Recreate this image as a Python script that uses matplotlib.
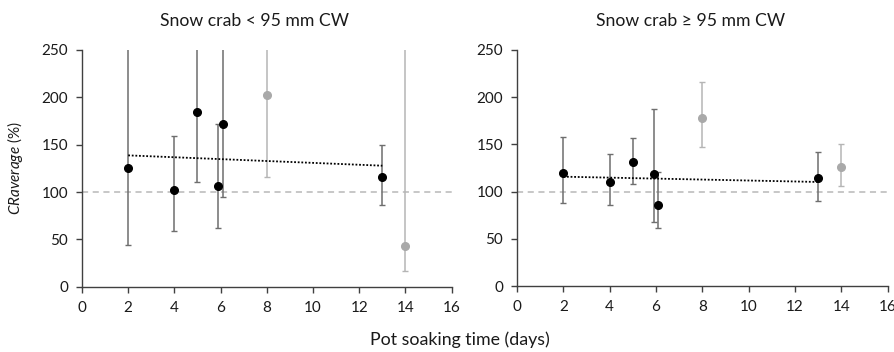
import matplotlib
matplotlib.use("Agg")
import matplotlib.pyplot as plt
import numpy as np

plt.rcParams['font.family'] = ['Lato', 'DejaVu Sans']
plt.rcParams['mathtext.fontset'] = 'custom'
plt.rcParams['mathtext.it'] = 'Lato:italic'
plt.rcParams['mathtext.rm'] = 'Lato'

titles = ["Snow crab < 95 mm CW", "Snow crab \u2265 95 mm CW"]

# black points (used in trend)
x_main = [2, 4, 5, 5.9, 6.1, 13]
small_y = [125.7, 102.5, 184.5, 106.7, 172.2, 115.8]
small_lo = [43.7, 58.8, 111, 62, 95, 86.3]
small_hi = [400, 159.5, 400, 171.8, 400, 149.3]
large_y = [119.4, 110.2, 131.4, 119, 86.2, 114.4]
large_lo = [87.9, 85.5, 108.4, 67.4, 61.1, 90]
large_hi = [157.5, 139.5, 157.1, 187.5, 120.4, 142]

# gray points (excluded)
x_excl = [8, 14]
small_ex_y = [202.8, 43]
small_ex_lo = [116, 16.2]
small_ex_hi = [400, 400]
large_ex_y = [178, 125.7]
large_ex_lo = [147.6, 105.6]
large_ex_hi = [216, 150.8]

# trend line endpoints
trend_x = [2, 13]
small_trend = [138.7, 127.8]
large_trend = [115.8, 110.2]

fig = plt.figure(figsize=(8.95, 3.52), dpi=100)
axes = [fig.add_axes([0.0916, 0.1855, 0.413, 0.6725]),
        fig.add_axes([0.5777, 0.1875, 0.4141, 0.6705])]

datasets = [
    (small_y, small_lo, small_hi, small_ex_y, small_ex_lo, small_ex_hi, small_trend),
    (large_y, large_lo, large_hi, large_ex_y, large_ex_lo, large_ex_hi, large_trend),
]

for ax, title, d in zip(axes, titles, datasets):
    y, lo, hi, ey, elo, ehi, tr = d
    y = np.array(y); lo = np.array(lo); hi = np.array(hi)
    ey = np.array(ey); elo = np.array(elo); ehi = np.array(ehi)
    ax.axhline(100, color='#b8b8b8', ls=(0, (4, 3)), lw=1.1, zorder=1)
    ax.errorbar(x_main, y, yerr=[y - lo, hi - y], fmt='none', ecolor='#6e6e6e',
                elinewidth=1.1, capsize=2.5, capthick=1.0, zorder=2)
    ax.errorbar(x_excl, ey, yerr=[ey - elo, ehi - ey], fmt='none', ecolor='#b5b5b5',
                elinewidth=1.1, capsize=2.5, capthick=1.0, zorder=2)
    ax.plot(x_main, y, 'o', color='black', ms=5.5, zorder=4)
    ax.plot(x_excl, ey, 'o', color='#a9a9a9', ms=5.5, zorder=4)
    ax.plot(trend_x, tr, color='black', ls=(0, (1, 1)), lw=1.3, zorder=3)
    ax.set_xlim(0, 16)
    ax.set_ylim(0, 250)
    ax.set_xticks(range(0, 17, 2))
    ax.set_yticks(range(0, 251, 50))
    for s in ['top', 'right']:
        ax.spines[s].set_visible(False)
    for s in ['left', 'bottom']:
        ax.spines[s].set_color('#404040')
        ax.spines[s].set_linewidth(1.0)
    ax.tick_params(axis='both', labelsize=11, color='#404040', length=4,
                   width=1.0, labelcolor='#1a1a1a', pad=6)
    ax.set_title(title, fontsize=12.7, color='#1a1a1a', x=0.467, y=1.0,
                 pad=0, va='center', transform=ax.transAxes)
    ax.title.set_position((0.467, 1.0 + 29 / 237.0))

axes[0].set_ylabel(r'$\mathit{CRaverage}$ (%)', fontsize=11, color='#1a1a1a', labelpad=12)
fig.text(0.514, 0.034, 'Pot soaking time (days)', ha='center', va='center',
         fontsize=12.8, color='#1a1a1a')

fig.savefig('out.png', dpi=100)
